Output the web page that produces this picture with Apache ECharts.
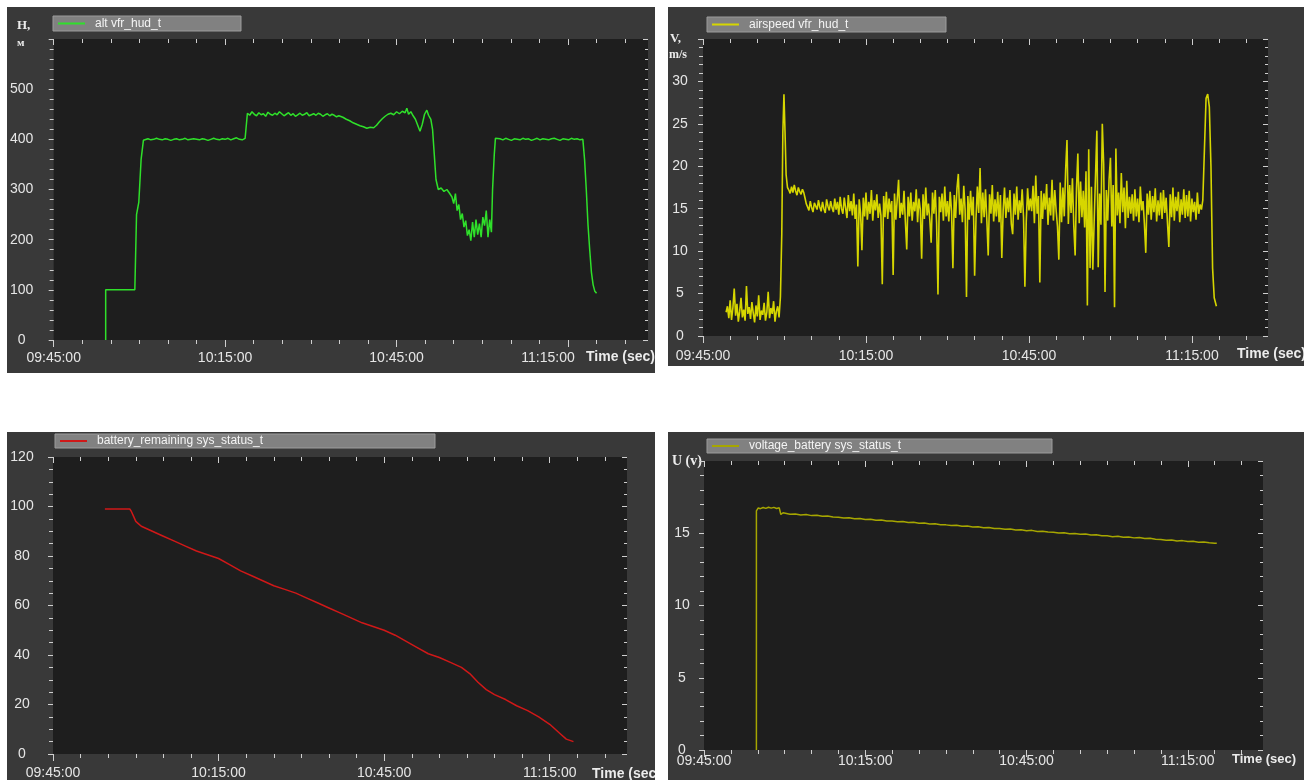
<!DOCTYPE html>
<html>
<head>
<meta charset="utf-8">
<script src="https://cdn.jsdelivr.net/npm/echarts@6/dist/echarts.min.js"></script>
<style>
  html, body { margin: 0; padding: 0; background: #fff; width: 1304px; height: 780px; overflow: hidden; }
  .panel { position: absolute; background: #393939; }
  #c1 { left: 7px; top: 7px; width: 648px; height: 366px; }
  #c2 { left: 668px; top: 7px; width: 636px; height: 359px; }
  #c3 { left: 7px; top: 432px; width: 648px; height: 348px; }
  #c4 { left: 668px; top: 432px; width: 636px; height: 348px; }
</style>
</head>
<body>
<div id="c1" class="panel"></div>
<div id="c2" class="panel"></div>
<div id="c3" class="panel"></div>
<div id="c4" class="panel"></div>
<script>
// x values are minutes after 09:45:00
const xMajorTicks = [0, 30, 60, 90]
const xMinorTicks = [5, 10, 15, 20, 25, 35, 40, 45, 50, 55, 65, 70, 75, 80, 85, 95, 100]
const xMax = 104

// alt vfr_hud_t (m)
const altRiseTime = [9.1, 9.1, 14.2, 14.3, 14.5, 14.9, 15.3, 15.7]
const altRise = [0, 100, 100, 100, 250, 275, 360, 398]
const altPlateau1Start = 16 // step 0.5
const altPlateau1 = [400, 401, 399, 400, 402, 400, 399, 401, 400, 398, 400, 401, 399, 400, 402, 399, 400, 401,
  400, 399, 401, 400, 398, 400, 402, 400, 399, 401, 400, 402, 399, 401, 403, 400, 399, 402]
const altPlateau2Start = 33.9 // step 0.4
const altPlateau2 = [452, 448, 455, 450, 447, 453, 449, 451, 446, 454, 450, 448, 452, 449, 455, 451, 447, 450,
  453, 448, 451, 446, 449, 452, 448, 450, 453, 447, 449, 451, 448, 452, 450, 446, 449, 451, 447, 450, 448, 445, 447]
const altDipTime = [50.6, 51.2, 51.8, 52.4, 53.0, 53.6, 54.2, 54.8, 55.4, 56.0, 56.5, 57.0, 57.5, 58.0, 58.5, 59.0,
  59.5, 60.0, 60.5, 61.0, 61.5, 61.8, 62.1, 62.5, 62.9, 63.3, 63.7, 64.1, 64.5, 64.9, 65.3, 65.6, 66.0, 66.3, 66.6,
  66.9, 67.3, 67.8, 68.3, 68.8, 69.3, 69.7, 70.0, 70.3, 70.6, 70.9, 71.2, 71.5, 71.8, 72.1, 72.4, 72.7, 73.0, 73.3,
  73.6, 73.9, 74.2, 74.5, 74.8, 75.1, 75.4, 75.7, 76.0, 76.3, 76.6, 76.8, 77.1, 77.3]
const altDip = [444, 440, 437, 433, 430, 427, 425, 422, 424, 423, 428, 435, 441, 446, 450, 452,
  449, 455, 451, 456, 453, 462, 450, 455, 447, 440, 428, 416, 430, 450, 458, 448, 440, 420, 370,
  320, 300, 303, 296, 300, 292, 285, 272, 292, 258, 270, 240, 252, 225, 238, 208, 220, 198, 235,
  205, 240, 210, 232, 205, 245, 228, 258, 205, 240, 215, 300, 370, 402]
const altPlateau3Start = 77.6 // step 0.5
const altPlateau3 = [400, 401, 399, 402, 400, 398, 401, 400, 399, 402, 400, 401, 398, 400, 402, 399, 401, 400,
  399, 401, 402, 400, 398, 401, 400, 399, 402, 400, 401, 399, 400]
const altFallTime = [92.9, 93.2, 93.5, 93.8, 94.1, 94.4, 94.7, 95.0]
const altFall = [360, 300, 230, 180, 135, 110, 97, 93]

// airspeed vfr_hud_t (m/s)
const airStep = 0.25
const airLowStart = 4.25
const airLow = [2.8, 3.5, 2.1, 4.2, 1.9, 3.3, 5.6, 2.4, 3.8, 1.7, 2.9, 4.5, 2.2, 3.1, 1.8, 5.9, 2.6, 3.4, 2.0, 4.0,
  2.7, 1.6, 3.6, 2.3, 4.8, 1.9, 3.0, 2.5, 3.9, 1.8, 2.8, 5.2, 2.1, 3.3, 2.6, 4.1, 1.7, 2.9, 3.5, 2.2, 4.6]
const airRiseTime = [14.5, 14.7, 14.9, 15.1, 15.3, 15.55]
const airRise = [12, 24, 28.5, 24, 19, 17.5]
const airPlateauStart = 15.8
const airPlateau = [17.2, 16.8, 17.6, 16.9, 17.8, 17.1, 16.6, 17.5, 17.0, 16.7, 17.3, 16.9, 16.2]
const airMidStart = 19
const airMid = [
  15.6, 15.2, 14.8, 15.9, 15.1, 14.6, 15.7, 15.3, 14.9, 16.0, 15.2, 14.7, 15.8, 15.0, 14.5, 16.1, 15.3, 14.8, 15.9, 15.1,
  14.6, 16.2, 14.9, 15.8, 14.3, 16.4, 15.0, 14.4, 16.3, 15.1, 13.9, 16.6, 14.7, 15.9, 14.2, 16.8, 13.8, 15.5, 8.2, 16.1,
  14.5, 10.1, 16.3, 14.1, 16.9, 13.7, 15.8, 14.4, 17.2, 13.6, 16.0, 14.8, 16.7, 13.9, 15.6, 14.2, 6.1, 16.5, 14.0, 17.0,
  13.8, 16.2, 14.6, 15.9, 7.2, 16.8, 13.7, 16.1, 18.4, 13.9, 15.7, 14.3, 17.1, 13.5, 10.2, 16.4, 14.1, 16.9, 13.6, 15.8,
  14.7, 17.3, 13.4, 16.2, 14.9, 9.1, 16.7, 13.8, 17.5, 14.2, 15.6, 13.7, 11.0, 16.9, 14.4, 17.2, 13.3, 4.9, 16.4, 14.6,
  16.8, 13.6, 17.6, 14.1, 15.9, 13.5, 17.0, 14.7, 8.0, 16.6, 13.9, 17.4, 19.1, 14.3, 16.2, 13.4, 17.7, 14.8, 4.6, 16.5,
  13.7, 17.1, 14.2, 16.4, 7.1, 13.8, 17.6, 14.5, 19.8, 13.3, 16.9, 14.0, 17.3, 13.6, 9.5, 16.7, 14.4, 17.8, 13.5, 16.1,
  14.1, 17.0, 13.4, 16.6, 9.2, 14.8, 17.5, 13.9, 16.3, 14.6, 17.2, 13.2, 12.0, 16.8, 14.3, 17.6, 13.7, 16.0, 14.5, 17.3,
  14.0, 5.8, 13.5, 17.4, 14.8, 16.2, 14.7, 17.7, 13.3, 18.9, 14.4, 16.5, 6.3, 17.1, 13.8, 16.8, 14.9, 17.9, 13.1, 16.3,
  14.2, 18.4, 13.6, 17.2, 14.8, 12.9, 9.0, 18.1, 13.4, 17.5, 14.1, 19.6, 23.1, 13.2, 17.8, 14.5, 18.6, 13.0, 9.5, 17.4,
  21.5, 13.3, 18.2, 14.0, 17.1, 12.8, 19.4, 3.6, 22.0, 8.0, 17.6, 7.8, 13.5, 18.9, 24.2, 8.1, 16.8, 13.1, 25.0, 20.3,
  5.2, 17.2, 13.6, 18.5, 21.0, 12.9, 17.8, 3.4, 22.1, 14.2, 16.9, 13.3, 19.2, 14.6, 17.5, 12.7, 18.3, 13.9, 16.4, 14.4,
  16.7, 13.6, 17.3, 14.1, 16.2, 13.4, 17.6, 14.8, 15.9, 13.2, 9.8, 16.8, 14.3, 17.1, 13.7, 16.5, 14.6, 17.4, 13.5, 16.0,
  14.2, 16.9, 13.8, 17.2, 14.5, 16.3, 13.3, 10.5, 16.7, 14.0, 17.5, 13.6, 16.4, 14.7, 17.0, 13.4, 16.1, 14.3, 17.3, 13.9,
  16.6, 14.1, 17.1, 13.5, 16.2, 14.6, 15.8, 13.7, 16.9, 14.4, 15.5, 14.9]
const airEndTime = [92.0, 92.3, 92.6, 92.9, 93.2, 93.5, 93.8, 94.1, 94.5]
const airEnd = [16, 22, 28.0, 28.5, 27.0, 20, 8, 4.5, 3.5]

// battery_remaining sys_status_t (%)
const batTime = [9.4, 13.9, 14.2, 14.6, 15.0, 15.5, 16.0, 17.0, 18.0, 19.0, 20.0, 22.0, 24.0, 26.0, 28.0, 30.0, 32.0,
  34.0, 36.0, 38.0, 40.0, 42.0, 44.0, 46.0, 48.0, 50.0, 52.0, 54.0, 56.0, 58.0, 60.0, 62.0, 64.0, 66.0, 68.0, 70.0,
  72.0, 74.0, 75.5, 77.0, 78.5, 80.0, 82.0, 84.0, 86.0, 88.0, 90.0, 91.0, 92.0, 93.0, 94.3]
const batValue = [99, 99, 98, 96, 94, 93, 92, 91, 90, 89, 88, 86, 84, 82, 80.5, 79, 76.5,
  74, 72, 70, 68, 66.5, 65, 63, 61, 59, 57, 55, 53, 51.5, 50, 48, 45.5, 43, 40.5, 39,
  37, 35, 32.5, 29, 26, 24, 22, 19.5, 17.5, 15, 12, 10, 8, 6, 5]

// voltage_battery sys_status_t (V)
const voltStartTime = [9.75, 9.75, 10.1, 10.5, 11, 11.5, 12, 12.5, 13, 13.5, 14, 14.3, 14.7]
const voltStart = [0, 16.55, 16.75, 16.7, 16.78, 16.72, 16.8, 16.74, 16.79, 16.71, 16.76, 16.3, 16.42]
const voltMainStart = 15 // one value per minute
const voltMain = [
  16.36, 16.31, 16.33, 16.27, 16.29, 16.22, 16.25, 16.18, 16.2, 16.13,
  16.1, 16.05, 16.07, 16.0, 16.02, 15.95, 15.97, 15.9, 15.92, 15.85,
  15.84, 15.79, 15.81, 15.74, 15.76, 15.69, 15.71, 15.64, 15.66, 15.59,
  15.58, 15.53, 15.55, 15.48, 15.5, 15.43, 15.45, 15.38, 15.4, 15.33,
  15.33, 15.27, 15.29, 15.22, 15.24, 15.18, 15.2, 15.12, 15.14, 15.08,
  15.07, 15.01, 15.04, 14.97, 14.99, 14.93, 14.95, 14.88, 14.9, 14.83,
  14.82, 14.76, 14.79, 14.72, 14.74, 14.68, 14.7, 14.63, 14.65, 14.58,
  14.57, 14.51, 14.54, 14.47, 14.49, 14.43, 14.45, 14.38, 14.4, 14.34,
  14.3]

const FONT = '"Liberation Sans", Arial, sans-serif'
const SERIF = '"Liberation Serif", "Times New Roman", serif'
const TICK = '#cfcfcf'
const LABEL = '#e6e6e6'

const pairs = (ts, vs) => ts.map((t, i) => [t, vs[i]])
const sampled = (start, step, vs) => vs.map((v, i) => [+(start + i * step).toFixed(3), v])
const pad = n => (n < 10 ? '0' : '') + n
const hms = v => {
  const t = 585 + Math.round(v)
  return pad(Math.floor(t / 60)) + ':' + pad(t % 60) + ':00'
}

const measure = (() => {
  const ctx = document.createElement('canvas').getContext('2d')
  return (text, font) => { ctx.font = font; return ctx.measureText(text).width }
})()

function xAxes(labelMargin, shiftLast) {
  const base = { type: 'value', min: 0, max: xMax, splitLine: { show: false }, axisLine: { show: false, onZero: false } }
  const tick = (vals, len, inside) => ({ show: true, customValues: vals, length: len, inside, lineStyle: { color: TICK, width: 1 } })
  return [
    { ...base, position: 'bottom', axisTick: tick(xMajorTicks, 7, false),
      axisLabel: {
        customValues: xMajorTicks, margin: labelMargin, color: LABEL, fontSize: 14, fontFamily: FONT,
        formatter: v => (shiftLast && v === 90 ? '{s|' + hms(v) + '}' : hms(v)),
        rich: { s: { padding: [0, 40, 0, 0], color: LABEL, fontSize: 14, fontFamily: FONT } },
      } },
    { ...base, position: 'bottom', axisTick: tick(xMinorTicks, 4, false), axisLabel: { show: false } },
    { ...base, position: 'top', axisTick: tick(xMajorTicks, 6, true), axisLabel: { show: false } },
    { ...base, position: 'top', axisTick: tick(xMinorTicks, 4, true), axisLabel: { show: false } },
  ]
}

function yAxes(max, interval, split, margin, showMax) {
  const base = { type: 'value', min: 0, max, interval, splitLine: { show: false }, axisLine: { show: false, onZero: false } }
  return [
    { ...base, position: 'left',
      axisTick: { length: 5, lineStyle: { color: TICK } },
      minorTick: { show: true, splitNumber: split, length: 4, lineStyle: { color: TICK } },
      axisLabel: { margin, align: 'center', showMaxLabel: showMax, color: LABEL, fontSize: 14, fontFamily: FONT } },
    { ...base, position: 'right',
      axisTick: { inside: true, length: 5, lineStyle: { color: TICK } },
      minorTick: { show: true, splitNumber: split, length: 3, lineStyle: { color: TICK } },
      axisLabel: { show: false } },
  ]
}

function buildChart(id, cfg) {
  const chart = echarts.init(document.getElementById(id))
  const legendFont = '12px ' + FONT
  const textW = measure(cfg.name, legendFont) + 5
  const lg = cfg.legend
  chart.setOption({
    animation: false,
    grid: { ...cfg.grid, show: true, backgroundColor: '#1e1e1e', borderWidth: 0 },
    legend: {
      data: [cfg.name], left: lg.left, top: lg.top, orient: 'horizontal',
      icon: 'rect', itemWidth: 27, itemHeight: 2,
      padding: [1, Math.max(0, lg.width - 5 - 27 - 5 - textW), 1, 5],
      backgroundColor: '#818181', borderColor: '#9c9c9c', borderWidth: 1,
      textStyle: { color: '#f4f4f4', fontSize: 12, fontFamily: FONT, lineHeight: lg.height - 2, padding: [0, 0, 0, 5] },
      selectedMode: false,
    },
    xAxis: xAxes(cfg.xLabelMargin, cfg.shiftLast),
    yAxis: yAxes(cfg.yMax, cfg.yInterval, cfg.ySplit, cfg.yLabelMargin, !!cfg.showMax),
    graphic: cfg.texts.map(t => ({
      type: 'text', left: t.x, top: t.y, silent: true,
      style: { text: t.text, fill: '#ececec', font: t.font },
    })),
    series: [{
      name: cfg.name, type: 'line', data: cfg.data, showSymbol: false, symbol: 'none',
      xAxisIndex: 0, yAxisIndex: 0,
      lineStyle: { color: cfg.color, width: cfg.width || 1.5 }, itemStyle: { color: cfg.color },
    }],
  })
  return chart
}

buildChart('c1', {
  name: 'alt vfr_hud_t', color: '#2fe02a',
  data: [].concat(pairs(altRiseTime, altRise), sampled(altPlateau1Start, 0.5, altPlateau1),
    sampled(altPlateau2Start, 0.4, altPlateau2), pairs(altDipTime, altDip),
    sampled(altPlateau3Start, 0.5, altPlateau3), pairs(altFallTime, altFall)),
  grid: { left: 45, top: 32, right: 7, bottom: 33 },
  legend: { left: 46, top: 9, width: 188, height: 15 },
  yMax: 600, yInterval: 100, ySplit: 5, yLabelMargin: 32, xLabelMargin: 11, shiftLast: true,
  texts: [
    { text: 'H,', x: 10, y: 12, font: 'bold 13px ' + SERIF },
    { text: 'м', x: 10, y: 31, font: 'bold 11px ' + SERIF },
    { text: 'Time (sec)', x: 579, y: 343, font: 'bold 14px ' + FONT },
  ],
})

buildChart('c2', {
  name: 'airspeed vfr_hud_t', color: '#d6d600', width: 1.6,
  data: [].concat(sampled(airLowStart, airStep, airLow), pairs(airRiseTime, airRise),
    sampled(airPlateauStart, airStep, airPlateau), sampled(airMidStart, airStep, airMid),
    pairs(airEndTime, airEnd)),
  grid: { left: 35, top: 32, right: 36, bottom: 30 },
  legend: { left: 39, top: 10, width: 239, height: 15 },
  yMax: 35, yInterval: 5, ySplit: 5, yLabelMargin: 23, xLabelMargin: 13,
  texts: [
    { text: 'V,', x: 2, y: 25, font: 'bold 13px ' + SERIF },
    { text: 'm/s', x: 1, y: 42, font: 'bold 12px ' + SERIF },
    { text: 'Time (sec)', x: 569, y: 340, font: 'bold 14px ' + FONT },
  ],
})

buildChart('c3', {
  name: 'battery_remaining sys_status_t', color: '#d01818',
  data: pairs(batTime, batValue),
  grid: { left: 46, top: 25, right: 28, bottom: 24 },
  legend: { left: 48, top: 2, width: 380, height: 14 },
  yMax: 120, yInterval: 20, ySplit: 4, yLabelMargin: 31, xLabelMargin: 12, showMax: true,
  texts: [
    { text: 'Time (sec)', x: 585, y: 335, font: 'bold 14px ' + FONT },
  ],
})

buildChart('c4', {
  name: 'voltage_battery sys_status_t', color: '#a6a600',
  data: [].concat(pairs(voltStartTime, voltStart), sampled(voltMainStart, 1, voltMain), [[95.4, 14.3]]),
  grid: { left: 36, top: 29, right: 41, bottom: 30 },
  legend: { left: 39, top: 7, width: 345, height: 13 },
  yMax: 20, yInterval: 5, ySplit: 5, yLabelMargin: 22, xLabelMargin: 4,
  texts: [
    { text: 'U (v)', x: 4, y: 22, font: 'bold 14px ' + SERIF },
    { text: 'Time (sec)', x: 564, y: 321, font: 'bold 13px ' + FONT },
  ],
})
</script>
</body>
</html>
